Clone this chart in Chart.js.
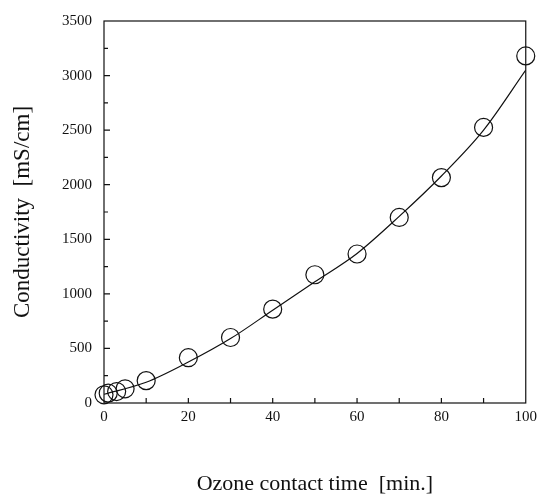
<!DOCTYPE html>
<html>
<head>
<meta charset="utf-8">
<script src="https://cdn.jsdelivr.net/npm/chart.js@4"></script>
<style>
  html, body { margin: 0; padding: 0; background: #fff; }
  #wrap { width: 542px; height: 495px; }
</style>
</head>
<body>
<div id="wrap"><canvas id="condChart" width="542" height="495"></canvas></div>
<script>
// measured points
const contactTime = [0, 1, 3, 5, 10, 20, 30, 40, 50, 60, 70, 80, 90, 100];
const conductivity = [75, 90, 105, 130, 205, 415, 600, 860, 1175, 1365, 1700, 2065, 2525, 3180];

// fitted curve
const fitTime = [0, 10, 20, 30, 40, 50, 60, 70, 80, 90, 100];
const fitConductivity = [80, 190, 375, 590, 850, 1110, 1370, 1710, 2080, 2500, 3050];

const xTicks = [0, 20, 40, 60, 80, 100];
const yTicks = [0, 500, 1000, 1500, 2000, 2500, 3000, 3500];

const serif = "'Liberation Serif', 'DejaVu Serif', serif";

// frame + inward ticks
const frameTicks = {
  id: 'frameTicks',
  afterDraw(chart) {
    const ctx = chart.ctx;
    const area = chart.chartArea;
    const xs = chart.scales.x, ys = chart.scales.y;
    ctx.save();
    ctx.strokeStyle = '#111';
    ctx.lineWidth = 1.2;
    ctx.strokeRect(area.left, area.top, area.right - area.left, area.bottom - area.top);
    ctx.beginPath();
    for (let v = xs.min + 10; v < xs.max; v += 10) {
      const px = xs.getPixelForValue(v);
      ctx.moveTo(px, area.bottom);
      ctx.lineTo(px, area.bottom - 5);
    }
    for (let v = ys.min + 250; v < ys.max; v += 250) {
      const py = ys.getPixelForValue(v);
      const len = (v % 500 === 0) ? 6 : 4;
      ctx.moveTo(area.left, py);
      ctx.lineTo(area.left + len, py);
    }
    ctx.stroke();
    ctx.restore();
  }
};

const condChart = document.getElementById('condChart');
new Chart(condChart, {
  type: 'scatter',
  data: {
    datasets: [
      {
        data: contactTime.map((t, i) => ({x: t, y: conductivity[i]})),
        pointStyle: 'circle',
        pointRadius: 9,
        pointBorderWidth: 1.2,
        pointBorderColor: '#111',
        pointBackgroundColor: 'rgba(0,0,0,0)',
        showLine: false,
        clip: false
      },
      {
        data: fitTime.map((t, i) => ({x: t, y: fitConductivity[i]})),
        showLine: true,
        borderColor: '#111',
        borderWidth: 1.2,
        pointRadius: 0,
        cubicInterpolationMode: 'monotone'
      }
    ]
  },
  options: {
    responsive: false,
    animation: false,
    layout: { padding: { top: 18, right: 14, left: 0, bottom: 0 } },
    plugins: {
      legend: false,
      tooltip: { enabled: false }
    },
    scales: {
      x: {
        type: 'linear',
        min: 0,
        max: 100,
        afterFit(scale) { scale.height = 92; },
        afterBuildTicks(scale) { scale.ticks = xTicks.map(v => ({value: v})); },
        grid: { display: false, drawTicks: false },
        border: { display: false },
        ticks: {
          padding: 5, color: '#111', font: { family: serif, size: 15 },
          callback: v => String(v)
        },
        title: {
          display: true,
          text: 'Ozone contact time  [min.]',
          color: '#111',
          padding: { top: 0, bottom: 3 },
          font: { family: serif, size: 22, lineHeight: '16px' }
        }
      },
      y: {
        type: 'linear',
        min: 0,
        max: 3500,
        afterFit(scale) { scale.width = 104; },
        afterBuildTicks(scale) { scale.ticks = yTicks.map(v => ({value: v})); },
        grid: { display: false, drawTicks: false },
        border: { display: false },
        ticks: {
          padding: 12, color: '#111', font: { family: serif, size: 15 },
          callback: v => String(v)
        },
        title: {
          display: true,
          text: 'Conductivity  [mS/cm]',
          color: '#111',
          padding: { top: 15, bottom: 0 },
          font: { family: serif, size: 23, lineHeight: '16px' }
        }
      }
    }
  },
  plugins: [frameTicks]
});
</script>
</body>
</html>
